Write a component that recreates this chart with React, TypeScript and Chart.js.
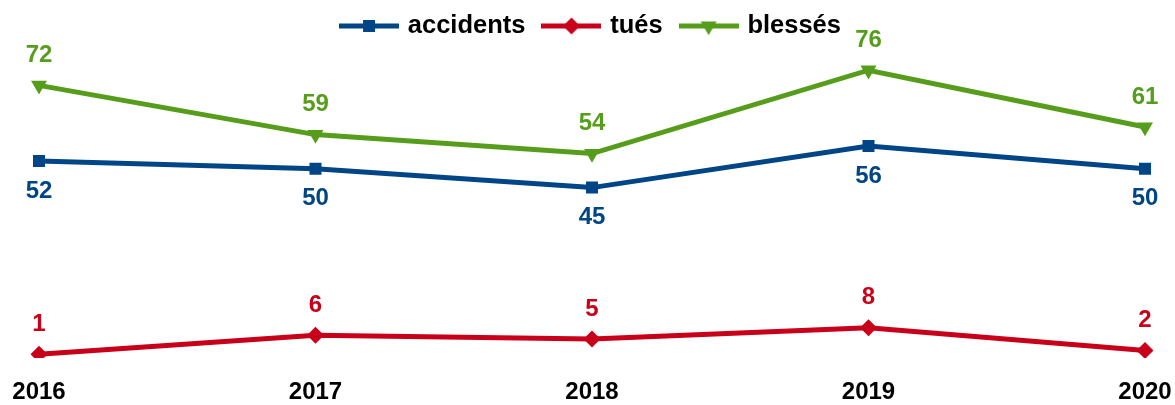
import React, { useEffect, useRef } from "react";
import { Chart, registerables } from "chart.js";

Chart.register(...registerables);

const years = ["2016", "2017", "2018", "2019", "2020"];
const accidents = [52, 50, 45, 56, 50];
const tues = [1, 6, 5, 8, 2];
const blesses = [72, 59, 54, 76, 61];

const BLUE = "#004586";
const RED = "#c9001a";
const GREEN = "#579d1c";
const FONT = "'Liberation Sans', Arial, sans-serif";

function drawMarker(ctx: CanvasRenderingContext2D, kind: string, x: number, y: number) {
  ctx.beginPath();
  if (kind === "rect") {
    ctx.rect(x - 6, y - 6, 12, 12);
  } else if (kind === "rectRot") {
    ctx.moveTo(x - 8.5, y);
    ctx.lineTo(x, y - 8.5);
    ctx.lineTo(x + 8.5, y);
    ctx.lineTo(x, y + 8.5);
    ctx.closePath();
  } else {
    ctx.moveTo(x - 8, y - 4.6);
    ctx.lineTo(x + 8, y - 4.6);
    ctx.lineTo(x, y + 9.2);
    ctx.closePath();
  }
  ctx.fill();
}

function legendImage(color: string, kind: string) {
  const c = document.createElement("canvas");
  c.width = 60;
  c.height = 20;
  const ctx = c.getContext("2d")!;
  ctx.fillStyle = color;
  ctx.fillRect(0, 7.5, 60, 5);
  drawMarker(ctx, kind, 30, 10);
  return c;
}

const labelPlugin = {
  id: "valueLabels",
  afterDatasetsDraw(chart: any) {
    const ctx = chart.ctx;
    ctx.save();
    ctx.font = `bold 24px ${FONT}`;
    ctx.textAlign = "center";
    ctx.textBaseline = "middle";
    chart.data.datasets.forEach((ds: any, i: number) => {
      const meta = chart.getDatasetMeta(i);
      ctx.fillStyle = ds.borderColor;
      meta.data.forEach((pt: any, j: number) => {
        const off = ds.labelBelow ? 30 : -30;
        ctx.fillText(String(ds.data[j]), pt.x, pt.y + off);
      });
    });
    ctx.restore();
  },
};

export default function App() {
  const ref = useRef<HTMLCanvasElement>(null);
  useEffect(() => {
    const images = [legendImage(BLUE, "rect"), legendImage(RED, "rectRot"), legendImage(GREEN, "triangle")];
    const chart = new Chart(ref.current!, {
      type: "line",
      data: {
        labels: years,
        datasets: [
          {
            label: "accidents",
            data: accidents,
            borderColor: BLUE,
            backgroundColor: BLUE,
            pointStyle: "rect",
            pointRadius: 8.5,
            pointBorderWidth: 0,
            labelBelow: true,
          } as any,
          {
            label: "tués",
            data: tues,
            borderColor: RED,
            backgroundColor: RED,
            pointStyle: "rectRot",
            pointRadius: 8.5,
            pointBorderWidth: 0,
          },
          {
            label: "blessés",
            data: blesses,
            borderColor: GREEN,
            backgroundColor: GREEN,
            pointStyle: "triangle",
            pointRotation: 180,
            pointRadius: 9.2,
            pointBorderWidth: 0,
          },
        ],
      },
      options: {
        animation: false,
        responsive: false,
        maintainAspectRatio: false,
        layout: { padding: { left: 39, right: 30, top: -6.75, bottom: 0 } },
        elements: { line: { borderWidth: 5, tension: 0 } },
        scales: {
          x: {
            offset: false,
            grid: { display: false, drawTicks: false },
            border: { display: false },
            afterFit: (s: any) => {
              s.paddingLeft = 0;
              s.paddingRight = 0;
              s.height = 47;
            },
            ticks: {
              color: "#000",
              padding: 22,
              maxRotation: 0,
              autoSkip: false,
              font: { family: FONT, size: 24, weight: "bold", lineHeight: 1 },
            },
          },
          y: { display: false, min: 0, max: 81.67 },
        },
        plugins: {
          tooltip: { enabled: false },
          legend: {
            position: "top",
            labels: {
              usePointStyle: true,
              pointStyleWidth: 52,
              padding: 20,
              color: "#000",
              font: { family: FONT, size: 25.5, weight: "bold" },
              generateLabels: (ch: any) => {
                const items = Chart.defaults.plugins.legend.labels.generateLabels(ch);
                return items.map((it: any, i: number) => ({ ...it, pointStyle: images[i], rotation: 0 }));
              },
            },
          },
        },
      },
      plugins: [labelPlugin],
    });
    return () => chart.destroy();
  }, []);
  return (
    <div style={{ position: "absolute", left: 0, top: 0, width: 1175, height: 405, background: "#fff" }}>
      <canvas ref={ref} width={1175} height={405} style={{ width: 1175, height: 405 }} />
    </div>
  );
}
